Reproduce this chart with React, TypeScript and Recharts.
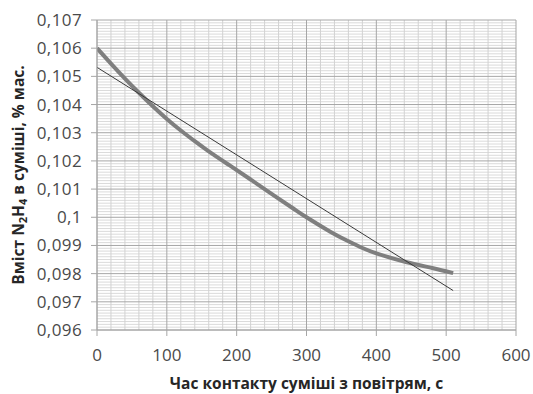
import React from "react";
import { LineChart, Line, XAxis, YAxis, ReferenceLine, Label } from "recharts";

const curveTime = [0, 20, 40, 60, 80, 100, 120, 140, 160, 190, 220, 250, 280, 300, 334, 360, 381, 400, 441, 480, 510];
const curveValue = [0.106, 0.10545, 0.10492, 0.10442, 0.10394, 0.10349, 0.10308, 0.1027, 0.10234, 0.10184, 0.10134, 0.10083, 0.10033, 0.1, 0.09949, 0.09915, 0.0989, 0.09872, 0.09842, 0.0982, 0.09802];
const trendTime = [0, 510];
const trendValue = [0.10532, 0.0974];
const xTicks = [0, 100, 200, 300, 400, 500, 600];
const yTicks = [0.096, 0.097, 0.098, 0.099, 0.1, 0.101, 0.102, 0.103, 0.104, 0.105, 0.106, 0.107];
const xMinor = [20, 40, 60, 80, 120, 140, 160, 180, 220, 240, 260, 280, 320, 340, 360, 380, 420, 440, 460, 480, 520, 540, 560, 580];
const yMinor: number[] = [];
for (let i = 0; i <= 110; i++) if (i % 10 !== 0) yMinor.push(Number((0.096 + i * 0.0001).toFixed(4)));

const curveData = curveTime.map((t, i) => ({ t, v: curveValue[i] }));
const trendData = trendTime.map((t, i) => ({ t, v: trendValue[i] }));

const fmt = (v: number) => String(Number(v.toFixed(3))).replace(".", ",");

const FONT = "'Open Sans', sans-serif";

const YTitle = (props: any) => {
  const vb = props.viewBox;
  const cy = vb.y + vb.height / 2;
  const cx = 18;
  return (
    <text
      x={cx}
      y={cy}
      transform={`rotate(-90, ${cx}, ${cy})`}
      textAnchor="middle"
      dominantBaseline="central"
      fontFamily={FONT}
      fontWeight="bold"
      fontSize={15.5}
      fill="#262626"
    >
      <tspan>Вміст N</tspan>
      <tspan fontSize={11} dy={4}>2</tspan>
      <tspan dy={-4}>H</tspan>
      <tspan fontSize={11} dy={4}>4</tspan>
      <tspan dy={-4}> в суміші, % мас.</tspan>
    </text>
  );
};

export default function App() {
  return (
    <div style={{ position: "absolute", left: 0, top: 0, background: "#fff" }}>
      <LineChart
        width={533}
        height={394}
        margin={{ top: 20, right: 17, bottom: 0, left: 0 }}
      >
        {yMinor.map((v) => (
          <ReferenceLine key={"hy" + v} y={v} stroke="#dadada" strokeWidth={1} />
        ))}
        {xMinor.map((v) => (
          <ReferenceLine key={"vx" + v} x={v} stroke="#d2d2d2" strokeWidth={1} />
        ))}
        {yTicks.map((v) => (
          <ReferenceLine key={"my" + v} y={v} stroke="#a6a6a6" strokeWidth={1} />
        ))}
        {xTicks.map((v) => (
          <ReferenceLine key={"mx" + v} x={v} stroke="#a6a6a6" strokeWidth={1} />
        ))}
        <XAxis
          dataKey="t"
          type="number"
          domain={[0, 600]}
          ticks={xTicks}
          height={64}
          tickSize={6}
          tickMargin={13}
          stroke="#a6a6a6"
          tick={{ fill: "#4a4a4a", fontSize: 17, fontFamily: FONT }}
          allowDataOverflow
        >
          <Label
            value="Час контакту суміші з повітрям, с"
            position="insideBottom"
            offset={0}
            dy={-5}
            style={{ fontFamily: FONT, fontWeight: "bold", fontSize: 15.5, fill: "#262626" }}
          />
        </XAxis>
        <YAxis
          dataKey="v"
          type="number"
          domain={[0.096, 0.107]}
          ticks={yTicks}
          width={97}
          tickSize={6}
          tickMargin={9}
          stroke="#a6a6a6"
          tickFormatter={fmt}
          tick={{ fill: "#4a4a4a", fontSize: 17, fontFamily: FONT, letterSpacing: 0.4 }}
          allowDataOverflow
        >
          <Label content={<YTitle />} />
        </YAxis>
        <Line
          data={curveData}
          dataKey="v"
          type="natural"
          stroke="#7f7f7f"
          strokeWidth={4}
          dot={false}
          isAnimationActive={false}
        />
        <Line
          data={trendData}
          dataKey="v"
          type="linear"
          stroke="#3a3a3a"
          strokeWidth={1}
          dot={false}
          isAnimationActive={false}
        />
      </LineChart>
    </div>
  );
}
